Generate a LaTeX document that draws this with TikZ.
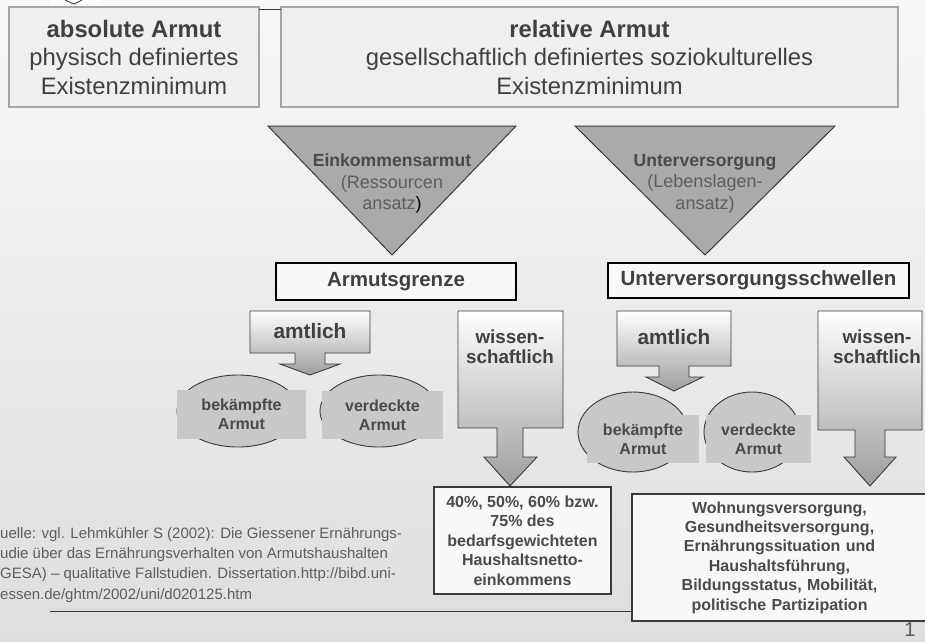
\documentclass[tikz,border=0pt]{standalone}
\usepackage{fontspec}
\setmainfont{Liberation Sans}
\usetikzlibrary{shapes.geometric}
\definecolor{bgtop}{HTML}{F8F8F8}
\definecolor{bgmid}{HTML}{ECECEC}
\definecolor{bgbot}{HTML}{DEDEDE}
\definecolor{topfill}{HTML}{EFEFEF}
\definecolor{topline}{HTML}{A6A6A6}
\definecolor{darktext}{HTML}{404040}
\definecolor{midtext}{HTML}{4A4A4A}
\definecolor{lighttext}{HTML}{5E5E5E}
\definecolor{trifill}{HTML}{AAAAAA}
\definecolor{edge}{HTML}{3A3A3A}
\definecolor{platefill}{HTML}{C8C8C8}
\definecolor{boxfill}{HTML}{F8F8F8}
\definecolor{arrowbot}{HTML}{9E9E9E}
\begin{document}
\begin{tikzpicture}[x=1pt,y=-1pt,
  topbox/.style={draw=topline, line width=2.5pt, fill=topfill, text=darktext, align=center, inner sep=0pt, outer sep=0pt, font=\fontsize{23.8}{28.5}\selectfont},
  tritext/.style={align=center, text=lighttext, inner sep=0pt, font=\fontsize{18}{21.5}\selectfont},
  trishape/.style={draw=edge, line width=1pt, fill=trifill},
  levelbox/.style={draw=black, line width=2pt, fill=boxfill, text=darktext, inner sep=0pt, font=\bfseries\fontsize{20.5}{24}\selectfont},
  calloutshape/.style={draw=edge, line width=0.9pt, top color=white, bottom color=arrowbot},
  callouttext/.style={align=center, text=darktext, inner sep=0pt, font=\bfseries\fontsize{18.8}{20.5}\selectfont},
  blob/.style={ellipse, draw=edge, line width=0.9pt, fill=platefill, inner sep=0pt},
  plate/.style={fill=platefill, inner sep=0pt, align=center, text=midtext, font=\bfseries\fontsize{16}{19}\selectfont},
  resbox/.style={draw=edge, line width=1.2pt, fill=boxfill, align=center, text=midtext, inner sep=0pt, font=\bfseries\fontsize{16}{19.4}\selectfont},
  source/.style={anchor=west, align=left, inner sep=0pt, text=lighttext, font=\fontsize{15}{20.2}\selectfont}
]
\useasboundingbox (0,0) rectangle (925,641);
\begin{scope}
\clip (0,0) rectangle (925,641);
\shade[top color=bgtop, middle color=bgmid, bottom color=bgbot] (0,0) rectangle (925,641);

% small logo remnant at top
\fill[white] (50,0) rectangle (100,4);
\draw[edge, line width=0.9pt] (65,0) -- (74,4) -- (82,0);

% top boxes
\node[topbox, minimum width=250pt, minimum height=100pt] (abs) at (134,57)
  {\textbf{absolute Armut}\\physisch definiertes\\Existenzminimum};
\node[topbox, minimum width=617pt, minimum height=100pt] (rel) at (589.5,57)
  {\textbf{relative Armut}\\gesellschaftlich definiertes soziokulturelles\\Existenzminimum};
\draw[edge, line width=1pt] ([yshift=-2.3pt]abs.north east) -- ([yshift=-2.3pt]abs.north east -| rel.west);

% triangles
\path[trishape] (268,126) -- (516,126) -- (392,255) -- cycle;
\path[trishape] (575,126) -- (835,126) -- (705,255) -- cycle;
\node[tritext] (t1) at (392,183.5) {{\bfseries\color{midtext}\fontsize{17.6}{21.5}\selectfont Einkommensarmut}\\(Ressourcen\\ansatz{\color{black})}};
\node[tritext] (t2) at (705,183.5) {{\bfseries\color{midtext}\fontsize{17.6}{21.5}\selectfont Unterversorgung}\\(Lebenslagen-\\ansatz)};

% level boxes
\node[levelbox, minimum width=240pt, minimum height=37pt] (lg) at (396,281.5) {Armutsgrenze};
\node[levelbox, minimum width=301pt, minimum height=35pt] (ls) at (758.5,280.5) {Unterversorgungsschwellen};

% callout arrows
\path[calloutshape] (250,311) -- (370,311) -- (370,353) -- (325,353) -- (325,364) -- (340,364) -- (310,375) -- (280,364) -- (295,364) -- (295,353) -- (250,353) -- cycle;
\path[calloutshape] (458,311) -- (563,311) -- (563,428) -- (523,428) -- (523,457) -- (537,457) -- (510,486) -- (484,457) -- (497,457) -- (497,428) -- (458,428) -- cycle;
\path[calloutshape] (617,311) -- (731,311) -- (731,366) -- (689,366) -- (689,377) -- (703,377) -- (674,391) -- (646,377) -- (659,377) -- (659,366) -- (617,366) -- cycle;
\path[calloutshape] (818,311) -- (922,311) -- (922,430) -- (885,430) -- (885,457) -- (896,457) -- (870,486) -- (844,457) -- (855,457) -- (855,430) -- (818,430) -- cycle;
\node[callouttext, font=\bfseries\fontsize{20.8}{24}\selectfont] (a1) at (310,331) {amtlich};
\node[callouttext] (a2) at (510,347) {wissen-\\schaftlich};
\node[callouttext, font=\bfseries\fontsize{20.8}{24}\selectfont] (a3) at (674,337) {amtlich};
\node[callouttext] (a4) at (877,347) {wissen-\\schaftlich};

% ellipses with plates
\node[blob, minimum width=122pt, minimum height=72pt] (e1) at (238,411) {};
\node[plate, minimum width=129pt, minimum height=49pt] (p1) at (241.5,414.5) {bekämpfte\\Armut};
\node[blob, minimum width=118pt, minimum height=72pt] (e2) at (379,411) {};
\node[plate, minimum width=121pt, minimum height=48pt] (p2) at (382.5,415) {verdeckte\\Armut};
\node[blob, minimum width=110pt, minimum height=80pt] (e3) at (633,432) {};
\node[plate, minimum width=112pt, minimum height=48pt] (p3) at (643,439) {bekämpfte\\Armut};
\node[blob, minimum width=96pt, minimum height=80pt] (e4) at (752,432) {};
\node[plate, minimum width=105pt, minimum height=48pt] (p4) at (758.5,439) {verdeckte\\Armut};

% result boxes
\node[resbox, minimum width=177pt, minimum height=107pt] (pct) at (522.5,540.5)
  {40\%, 50\%, 60\% bzw.\\75\% des\\bedarfsgewichteten\\Haushaltsnetto-\\einkommens};
\node[resbox, minimum width=295pt, minimum height=127pt, text width=290pt] (wohn) at (779.5,557.5)
  {Wohnungsversorgung,\\Gesundheitsversorgung,\\Ernährungssituation und\\Haushaltsführung,\\Bildungsstatus, Mobilität,\\politische Partizipation};

% source and rule
\node[source] (src) at (0,565)
  {uelle: vgl. Lehmkühler S (2002): Die Giessener Ernährungs-\\udie über das Ernährungsverhalten von Armutshaushalten\\GESA) – qualitative Fallstudien. Dissertation.http://bibd.uni-\\essen.de/ghtm/2002/uni/d020125.htm};
\coordinate (rulestart) at (50,611.7);
\draw[edge, line width=1.3pt] (rulestart) -- (rulestart -| wohn.west);
\node[text=lighttext, inner sep=0pt, font=\fontsize{20}{24}\selectfont] (pg) at (910,630) {1};
\end{scope}
\end{tikzpicture}
\end{document}
